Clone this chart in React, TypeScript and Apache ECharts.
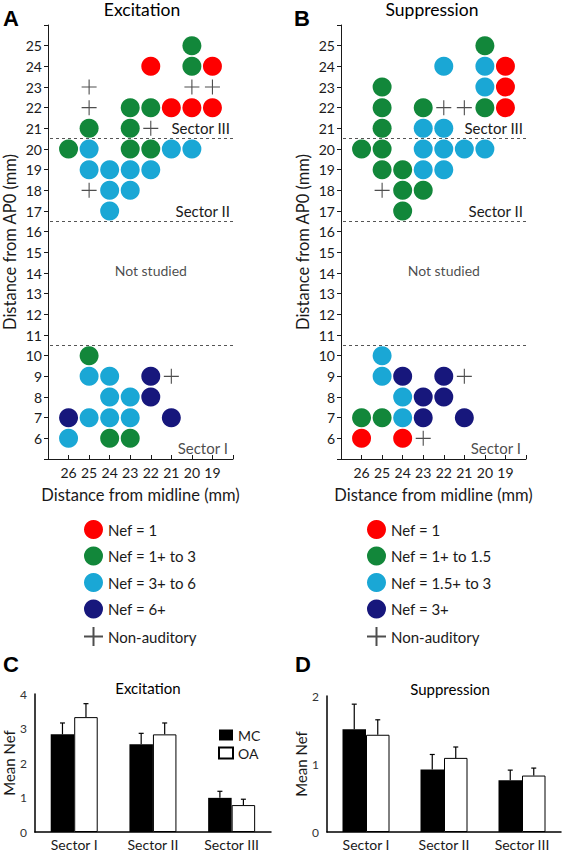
import React, { useEffect, useRef } from "react";
import * as echarts from "echarts";

// ---------- Data ----------
// Panel A: Excitation  [distance from midline, distance from AP0]
const excRed = [[22, 24], [19, 24], [21, 22], [20, 22], [19, 22]];
const excGreen = [[20, 25], [20, 24], [23, 22], [22, 22], [25, 21], [23, 21], [26, 20], [23, 20], [22, 20], [25, 10], [24, 6], [23, 6]];
const excCyan = [[25, 20], [21, 20], [20, 20], [25, 19], [24, 19], [23, 19], [22, 19], [24, 18], [23, 18], [24, 17], [25, 9], [24, 9], [24, 8], [23, 8], [25, 7], [24, 7], [23, 7], [26, 6]];
const excNavy = [[22, 9], [22, 8], [26, 7], [21, 7]];
const excPlus = [[25, 23], [20, 23], [19, 23], [25, 22], [22, 21], [25, 18], [21, 9]];

// Panel B: Suppression
const supRed = [[19, 24], [19, 23], [19, 22], [26, 6], [24, 6]];
const supGreen = [[20, 25], [25, 23], [25, 22], [23, 22], [20, 22], [25, 21], [26, 20], [25, 20], [25, 19], [24, 19], [24, 18], [23, 18], [24, 17], [26, 7], [25, 7]];
const supCyan = [[22, 24], [20, 24], [20, 23], [23, 21], [22, 21], [23, 20], [22, 20], [21, 20], [20, 20], [23, 19], [22, 19], [25, 10], [25, 9], [24, 8], [24, 7]];
const supNavy = [[24, 9], [22, 9], [23, 8], [22, 8], [23, 7], [21, 7]];
const supPlus = [[22, 22], [21, 22], [25, 18], [21, 9], [23, 6]];

const excLegend = ["Nef = 1", "Nef = 1+ to 3", "Nef = 3+ to 6", "Nef = 6+", "Non-auditory"];
const supLegend = ["Nef = 1", "Nef = 1+ to 1.5", "Nef = 1.5+ to 3", "Nef = 3+", "Non-auditory"];

const sectorBounds = [20.5, 16.5, 10.5];
const sectorBoundLabels = ["Sector III", "Sector II", ""];

// Panels C/D: mean Nef by sector
const sectors = ["Sector I", "Sector II", "Sector III"];
const excMC = [2.83, 2.54, 0.99];
const excMCErr = [0.33, 0.32, 0.19];
const excOA = [3.33, 2.83, 0.78];
const excOAErr = [0.39, 0.33, 0.17];
const supMC = [1.51, 0.92, 0.76];
const supMCErr = [0.37, 0.22, 0.15];
const supOA = [1.43, 1.09, 0.83];
const supOAErr = [0.22, 0.16, 0.11];

// ---------- Styles ----------
const FONT = "Lato, 'Open Sans', sans-serif";
const RED = "#fe0000";
const GREEN = "#12873a";
const CYAN = "#1aa7d5";
const NAVY = "#17177c";
const INK = "#1a1a1a";
const PLUS = "path://M0 8 L16 8 M8 0 L8 16";
const BAR_W = 23.5;

function App() {
  const ref = useRef<HTMLDivElement>(null);

  useEffect(() => {
    document.body.style.margin = "0";
    const chart = echarts.init(ref.current!, null, { renderer: "svg" });

    const mapGrid = (i: number) => {
      const hide = (v: number, lo: number, hi: number) => (v < lo || v > hi ? "" : String(v));
      const x = {
        gridIndex: i,
        type: "value",
        min: 18,
        max: 27,
        interval: 1,
        inverse: true,
        axisLine: { show: true, onZero: false, lineStyle: { color: INK, width: 1 } },
        axisTick: { show: true, inside: true, length: 4, lineStyle: { color: INK } },
        axisLabel: { fontSize: 14, color: INK, margin: 6, fontFamily: FONT, formatter: (v: number) => hide(v, 19, 26) },
        splitLine: { show: false },
        name: "Distance from midline (mm)",
        nameLocation: "middle",
        nameGap: 27,
        nameTextStyle: { fontSize: 16.5, color: INK, fontFamily: FONT },
      };
      const y = {
        gridIndex: i,
        type: "value",
        min: 5,
        max: 26,
        interval: 1,
        axisLine: { show: true, onZero: false, lineStyle: { color: INK, width: 1 } },
        axisTick: { show: true, length: 4, lineStyle: { color: INK } },
        axisLabel: { fontSize: 14, color: INK, margin: 6, fontFamily: FONT, formatter: (v: number) => hide(v, 6, 25) },
        splitLine: { show: false },
        name: "Distance from AP0 (mm)",
        nameLocation: "middle",
        nameGap: 30,
        nameTextStyle: { fontSize: 16.5, color: INK, fontFamily: FONT },
      };
      return { x, y };
    };

    const A = mapGrid(0);
    const B = mapGrid(1);

    const sectorLabelStyle = { fontSize: 15, color: INK, fontFamily: FONT };

    const dotSeries = (idx: number, names: string[], sets: number[][][], plus: number[][]) => {
      const colors = [RED, GREEN, CYAN, NAVY];
      const out: any[] = sets.map((d, k) => ({
        type: "scatter",
        name: names[k],
        xAxisIndex: idx,
        yAxisIndex: idx,
        data: d,
        symbol: "circle",
        symbolSize: 19,
        itemStyle: { color: colors[k], opacity: 1 },
        z: 3,
      }));
      out.push({
        type: "scatter",
        name: names[4],
        xAxisIndex: idx,
        yAxisIndex: idx,
        data: plus,
        symbol: PLUS,
        symbolSize: 15,
        itemStyle: { color: "transparent", borderColor: "#222", borderWidth: 1.1 },
        z: 3,
      });
      out.push({
        type: "scatter",
        name: "annot" + idx,
        xAxisIndex: idx,
        yAxisIndex: idx,
        symbolSize: 0,
        silent: true,
        data: [
          { value: [22.0, 14.1], label: { show: true, position: "inside", formatter: "Not studied", fontSize: 14, color: INK, fontFamily: FONT } },
          { value: [18.25, 5.55], label: { show: true, position: "inside", align: "right", formatter: "Sector I", ...sectorLabelStyle } },
        ],
        markLine: {
          silent: true,
          symbol: ["none", "none"],
          lineStyle: { type: [3, 3], color: "#555", width: 1 },
          label: { show: true, position: "insideStartTop", distance: 3, ...sectorLabelStyle },
          data: sectorBounds.map((v, k) => ({
            yAxis: v,
            label: sectorBoundLabels[k]
              ? { show: true, position: "insideStartTop", distance: 3, formatter: sectorBoundLabels[k], ...sectorLabelStyle }
              : { show: false },
          })),
        },
      });
      return out;
    };

    const errSeries = (idx: number, means: number[], errs: number[], offset: number) => ({
      type: "custom",
      xAxisIndex: idx,
      yAxisIndex: idx,
      silent: true,
      z: 5,
      data: means.map((m, i) => [i, m + errs[i], m]),
      renderItem: (params: any, api: any) => {
        const p1 = api.coord([api.value(0), api.value(2)]);
        const p2 = api.coord([api.value(0), api.value(1)]);
        const x = p1[0] + offset;
        const st = { stroke: "#000", lineWidth: 1.2 };
        return {
          type: "group",
          children: [
            { type: "line", shape: { x1: x, y1: p1[1], x2: x, y2: p2[1] }, style: st },
            { type: "line", shape: { x1: x - 2.5, y1: p2[1], x2: x + 2.5, y2: p2[1] }, style: st },
          ],
        };
      },
    });

    const barAxes = (idx: number, max: number, nameGap: number) => ({
      x: {
        gridIndex: idx,
        type: "category",
        data: sectors,
        axisTick: { show: false },
        axisLine: { show: true, lineStyle: { color: "#000", width: 1.5 } },
        axisLabel: { fontSize: 14, color: INK, margin: 5, fontFamily: FONT },
      },
      y: {
        gridIndex: idx,
        type: "value",
        min: 0,
        max,
        interval: 1,
        axisLine: { show: true, lineStyle: { color: "#000", width: 1.5 } },
        axisTick: { show: false },
        splitLine: { show: false },
        axisLabel: { fontSize: 12, color: "#333", margin: 8, fontFamily: FONT },
        name: "Mean Nef",
        nameLocation: "middle",
        nameGap,
        nameTextStyle: { fontSize: 15, color: INK, fontFamily: FONT },
      },
    });
    const C = barAxes(2, 4, 16);
    const D = barAxes(3, 2, 18);

    const bars = (idx: number, mc: number[], oa: number[]) => [
      { type: "bar", name: "MC", xAxisIndex: idx, yAxisIndex: idx, data: mc, barWidth: BAR_W, barGap: "0%", itemStyle: { color: "#000" } },
      { type: "bar", name: "OA", xAxisIndex: idx, yAxisIndex: idx, data: oa, barWidth: BAR_W, barGap: "0%", itemStyle: { color: "#fff", borderColor: "#000", borderWidth: 1 } },
    ];

    const txt = (text: string, x: number, y: number, size: number, bold = false, family = FONT) => ({
      type: "text",
      x,
      y,
      style: { text, fontSize: size, fontWeight: bold ? "bold" : "normal", fontFamily: family, fill: "#000", align: "center", verticalAlign: "middle" },
    });

    const legendBase = {
      orient: "vertical",
      itemWidth: 19,
      itemHeight: 19,
      itemGap: 7.5,
      selectedMode: false,
      textStyle: { fontSize: 15, color: INK, fontFamily: FONT },
    };

    chart.setOption({
      animation: false,
      backgroundColor: "#fff",
      grid: [
        { left: 48, top: 25, width: 185, height: 434 },
        { left: 341, top: 25, width: 185, height: 434 },
        { left: 33, top: 694, width: 238, height: 138 },
        { left: 327, top: 696, width: 234, height: 136 },
      ],
      xAxis: [A.x, B.x, C.x, D.x],
      yAxis: [A.y, B.y, C.y, D.y],
      legend: [
        { ...legendBase, data: excLegend, left: 78, top: 515 },
        { ...legendBase, data: supLegend, left: 361, top: 515 },
        {
          data: ["MC", "OA"],
          orient: "vertical",
          left: 213,
          top: 723,
          itemWidth: 14,
          itemHeight: 11,
          itemGap: 4,
          selectedMode: false,
          icon: "rect",
          textStyle: { fontSize: 14, color: INK, fontFamily: FONT },
        },
      ],
      graphic: [
        txt("A", 11, 18, 22, true, "Liberation Sans"),
        txt("B", 302, 18, 22, true, "Liberation Sans"),
        txt("C", 11, 664, 22, true, "Liberation Sans"),
        txt("D", 303, 664, 22, true, "Liberation Sans"),
        txt("Excitation", 142, 9, 17.5),
        txt("Suppression", 432, 9, 17.5),
        txt("Excitation", 148, 688, 15),
        txt("Suppression", 450, 689, 15),
      ],
      series: [
        ...dotSeries(0, excLegend, [excRed, excGreen, excCyan, excNavy], excPlus),
        ...dotSeries(1, supLegend, [supRed, supGreen, supCyan, supNavy], supPlus),
        ...bars(2, excMC, excOA),
        ...bars(3, supMC, supOA),
        errSeries(2, excMC, excMCErr, -BAR_W / 2),
        errSeries(2, excOA, excOAErr, BAR_W / 2),
        errSeries(3, supMC, supMCErr, -BAR_W / 2),
        errSeries(3, supOA, supOAErr, BAR_W / 2),
      ],
    });

    return () => chart.dispose();
  }, []);

  return <div ref={ref} style={{ width: 564, height: 852 }} />;
}

export default App;
